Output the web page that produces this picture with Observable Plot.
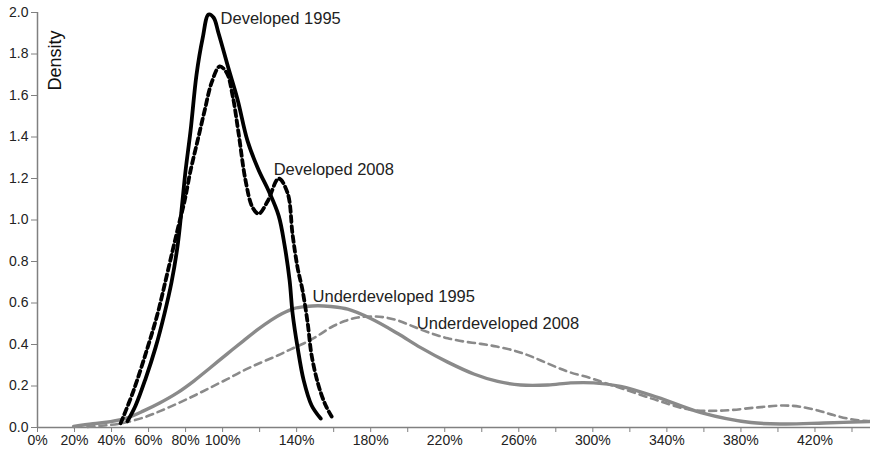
<!DOCTYPE html>
<html>
<head>
<meta charset="utf-8">
<script src="https://cdn.jsdelivr.net/npm/d3@7"></script>
<script src="https://cdn.jsdelivr.net/npm/@observablehq/plot@0.6"></script>
<style>
  html, body { margin: 0; padding: 0; background: #fff; }
  #chart svg { display: block; }
</style>
</head>
<body>
<div id="chart"></div>
<script>
// Series: [x (%), density]
const developed1995 = [
  [48.6, 0.03], [53, 0.106], [58.4, 0.236], [63.8, 0.386], [68.6, 0.549], [72.4, 0.70],
  [75.7, 0.877], [77.8, 1.046], [80, 1.239], [82.7, 1.431], [85.9, 1.70], [89.2, 1.875],
  [92.4, 1.99], [95.1, 1.976], [97.8, 1.90], [103.2, 1.73], [108.1, 1.58], [113.5, 1.38],
  [119.5, 1.24], [124.9, 1.14], [130.3, 1.02], [133.5, 0.877], [136.2, 0.708], [137.8, 0.55],
  [140.5, 0.386], [143.8, 0.227], [148.1, 0.106], [153, 0.043]
];
const developed2008 = [
  [44.9, 0.02], [51.9, 0.178], [59.5, 0.386], [64.9, 0.549], [69.2, 0.708], [73, 0.853],
  [76.2, 0.973], [79.5, 1.094], [82.7, 1.239], [86.5, 1.383], [90.3, 1.528], [94.1, 1.663],
  [98.4, 1.74], [102.2, 1.71], [105.4, 1.60], [108.6, 1.42], [112.4, 1.19], [116.2, 1.06],
  [119.5, 1.03], [124.3, 1.09], [130.3, 1.20], [135.1, 1.13], [137.8, 0.93], [140.5, 0.77],
  [143.2, 0.66], [146, 0.50], [148.1, 0.347], [151.9, 0.20], [155.7, 0.106], [158.9, 0.053]
];
const underdeveloped1995 = [
  [19.5, 0.005], [30, 0.018], [39.5, 0.028], [48, 0.045], [57.3, 0.08], [66, 0.118],
  [75.7, 0.168], [84.6, 0.225], [93.5, 0.289], [102.5, 0.355], [111.4, 0.419], [118.7, 0.47],
  [126, 0.516], [132, 0.548], [138.4, 0.573], [145, 0.583], [151.4, 0.587], [158.4, 0.583],
  [167.6, 0.57], [180, 0.525], [194.6, 0.453], [207, 0.385], [221.6, 0.315], [235.7, 0.258],
  [248.6, 0.222], [261, 0.205], [275.7, 0.205], [288, 0.215], [300.5, 0.215], [315, 0.198],
  [335, 0.145], [358.4, 0.072], [385.4, 0.024], [403.2, 0.017], [424.9, 0.022], [450, 0.029]
];
const underdeveloped2008 = [
  [27, 0.003], [36, 0.01], [44.9, 0.019], [57.3, 0.048], [66.5, 0.08], [75.7, 0.116],
  [84.6, 0.153], [93.5, 0.193], [102.5, 0.233], [111.4, 0.275], [120.5, 0.312], [129.7, 0.347],
  [137, 0.378], [143.8, 0.405], [151, 0.44], [158.4, 0.482], [166, 0.513], [173, 0.53],
  [181.6, 0.535], [188, 0.53], [194.6, 0.516], [201.5, 0.492], [208.6, 0.467], [215, 0.447],
  [221.6, 0.43], [230, 0.415], [239.5, 0.403], [248, 0.39], [257.3, 0.371], [264.5, 0.35],
  [271.9, 0.323], [280, 0.292], [288, 0.265], [298.9, 0.238], [307, 0.213], [316.8, 0.185],
  [335.1, 0.13], [353, 0.085], [370.8, 0.082], [389.2, 0.097], [403.2, 0.106], [412, 0.10],
  [421.6, 0.082], [430, 0.06], [439.5, 0.04], [450, 0.029]
];
const seriesLabels = ["Developed 1995", "Developed 2008", "Underdeveloped 1995", "Underdeveloped 2008"];
const labelX = [98.9, 127.6, 148.6, 204.9];
const labelY = [1.97, 1.24, 0.631, 0.501];
const xTicks = d3.range(0, 460, 20);
const xTickLabels = [0, 20, 40, 60, 80, 100, 140, 180, 220, 260, 300, 340, 380, 420];
const yTicks = d3.range(0, 2.01, 0.2);
const yLabel = "Density";

const labels = seriesLabels.map((t, i) => ({text: t, x: labelX[i], y: labelY[i]}));
const font = "'Liberation Sans', Arial, sans-serif";

const plot = Plot.plot({
  width: 870,
  height: 457,
  marginLeft: 37,
  marginRight: 0,
  marginTop: 12,
  marginBottom: 30,
  style: {fontFamily: font, fontSize: "14px", color: "#222", background: "#fff"},
  x: {domain: [0, 450]},
  y: {domain: [0, 2]},
  marks: [
    Plot.axisX({ticks: xTicks, tickSize: 5, tickPadding: 3, stroke: "#808080",
      tickFormat: d => xTickLabels.includes(d) ? d + "%" : "", fontSize: 14, label: null, fill: "#222"}),
    Plot.axisY({ticks: yTicks, tickSize: 6, tickPadding: 3, stroke: "#808080",
      tickFormat: d3.format(".1f"), fontSize: 14, label: null, fill: "#222"}),
    Plot.ruleY([0], {stroke: "#808080", strokeWidth: 1.5}),
    Plot.ruleX([0], {stroke: "#808080", strokeWidth: 1.5}),
    Plot.line(underdeveloped2008, {x: d => d[0], y: d => d[1], curve: "catmull-rom",
      stroke: "#8a8a8a", strokeWidth: 2.6, strokeDasharray: "7,5"}),
    Plot.line(underdeveloped1995, {x: d => d[0], y: d => d[1], curve: "catmull-rom",
      stroke: "#8a8a8a", strokeWidth: 3.4}),
    Plot.line(developed2008, {x: d => d[0], y: d => d[1], curve: "catmull-rom",
      stroke: "#000", strokeWidth: 3.8, strokeDasharray: "6,4"}),
    Plot.line(developed1995, {x: d => d[0], y: d => d[1], curve: "catmull-rom",
      stroke: "#000", strokeWidth: 3.8}),
    Plot.text(labels, {x: "x", y: "y", text: "text", textAnchor: "start",
      fontSize: 16.5, fill: "#222"}),
    Plot.text([yLabel], {frameAnchor: "top-left", dx: 18, dy: 48, rotate: -90,
      textAnchor: "middle", lineAnchor: "middle", fontSize: 18, fill: "#111"})
  ]
});
document.getElementById("chart").appendChild(plot);
</script>
</body>
</html>
